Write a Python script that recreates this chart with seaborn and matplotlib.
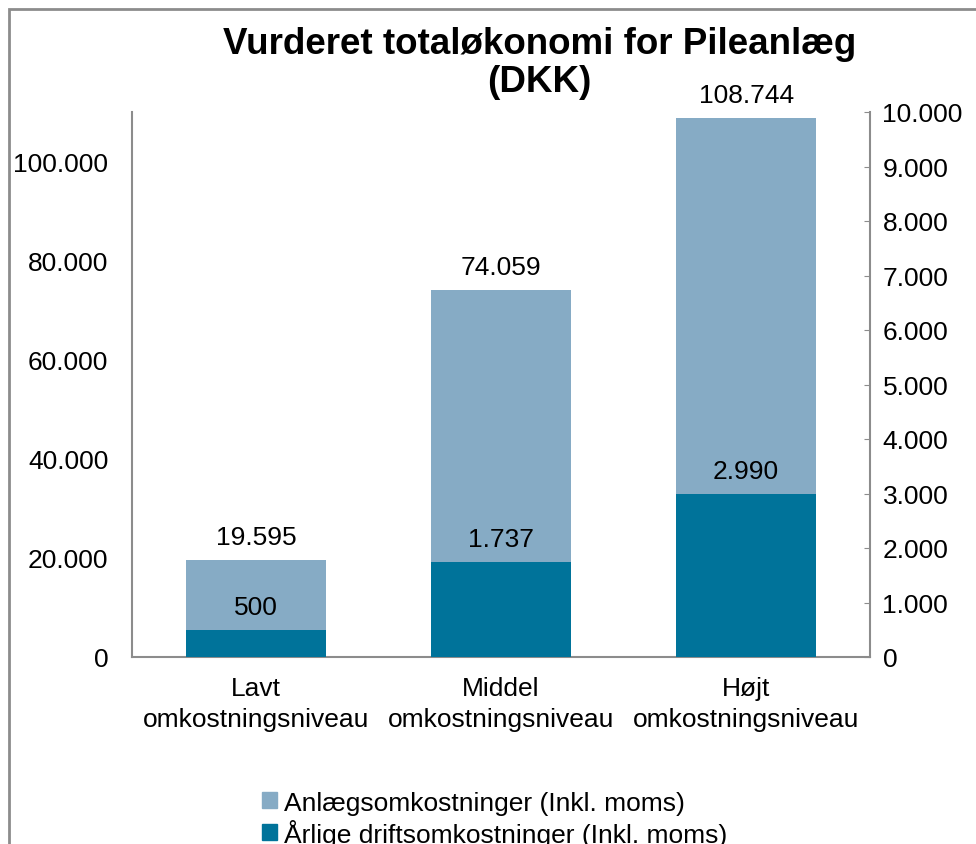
import matplotlib
matplotlib.use("Agg")
import matplotlib.pyplot as plt
from matplotlib.patches import Rectangle
from matplotlib.ticker import FuncFormatter, MultipleLocator
import seaborn as sns
import pandas as pd

# data
categories = ['Lavt\nomkostningsniveau', 'Middel\nomkostningsniveau', 'Højt\nomkostningsniveau']
anlaeg = [19595, 74059, 108744]   # left axis
drift = [500, 1737, 2990]         # right axis
series_names = ['Anlægsomkostninger (Inkl. moms)', 'Årlige driftsomkostninger (Inkl. moms)']
title_lines = ['Vurderet totaløkonomi for Pileanlæg', '(DKK)']

light = '#86abc5'
dark = '#00739a'
grey = '#8c8c8c'

df = pd.DataFrame({'Niveau': categories, 'Anlaeg': anlaeg, 'Drift': drift})

sns.set_style("white")
plt.rcParams['font.family'] = ['Liberation Sans', 'DejaVu Sans']
plt.rcParams['text.color'] = 'black'
plt.rcParams['xtick.color'] = 'black'
plt.rcParams['ytick.color'] = 'black'

fig = plt.figure(figsize=(9.76, 8.45), dpi=100)
ax = fig.add_axes([132/976, 1-658/845, (870-132)/976, (658-113)/845])
ax2 = ax.twinx()

sns.barplot(data=df, x='Niveau', y='Anlaeg', color=light, width=0.57,
            saturation=1, ax=ax, order=categories, linewidth=0, edgecolor='none')
sns.barplot(data=df, x='Niveau', y='Drift', color=dark, width=0.57,
            saturation=1, ax=ax2, order=categories, linewidth=0, edgecolor='none')

dk = lambda v, pos=None: f"{v:,.0f}".replace(",", ".")

ax.set_ylim(0, 110000)
ax2.set_ylim(0, 10000)
ax.set_xlim(-0.505, 2.505)
ax.yaxis.set_major_locator(MultipleLocator(20000))
ax2.yaxis.set_major_locator(MultipleLocator(1000))
ax.yaxis.set_major_formatter(FuncFormatter(dk))
ax2.yaxis.set_major_formatter(FuncFormatter(dk))

ax.set_xlabel('')
ax.set_ylabel('')
ax2.set_ylabel('')

ax.tick_params(axis='y', length=0, pad=17, labelsize=19, labelcolor='black')
ax.tick_params(axis='x', length=0, pad=14, labelsize=19, labelcolor='black')
ax2.tick_params(axis='y', direction='in', length=4, color=grey, pad=9, labelsize=19,
                labelcolor='black')
for lbl in ax.get_xticklabels():
    lbl.set_linespacing(1.35)

for a in (ax, ax2):
    for s in a.spines.values():
        s.set_color(grey)
        s.set_linewidth(1.5)
    a.spines['top'].set_visible(False)
ax.spines['right'].set_visible(False)
ax2.spines['left'].set_visible(False)
ax2.spines['bottom'].set_visible(False)

ax.bar_label(ax.containers[0], labels=[dk(v) for v in anlaeg], padding=8, fontsize=19,
             color='black')
ax2.bar_label(ax2.containers[0], labels=[dk(v) for v in drift], padding=8, fontsize=19,
              color='black')

# title as two separate lines
fig.text(0.553, 1-45/845, title_lines[0], ha='center', va='center',
         fontsize=26.5, fontweight='bold', color='black')
fig.text(0.553, 1-82/845, title_lines[1], ha='center', va='center',
         fontsize=26.5, fontweight='bold', color='black')

handles = [Rectangle((0, 0), 1, 1, color=light), Rectangle((0, 0), 1, 1, color=dark)]
fig.legend(handles, series_names, loc='upper center', bbox_to_anchor=(0.507, 1-781/845),
           frameon=False, fontsize=19, handlelength=0.55, handleheight=0.55,
           handletextpad=0.3, labelspacing=0.15, borderaxespad=0)

fig.patches.append(Rectangle((8.5/976, -0.2), 1.5, 1.2 - 9.5/845, transform=fig.transFigure,
                             fill=False, edgecolor=grey, linewidth=2))

fig.savefig('out.png', dpi=100)
